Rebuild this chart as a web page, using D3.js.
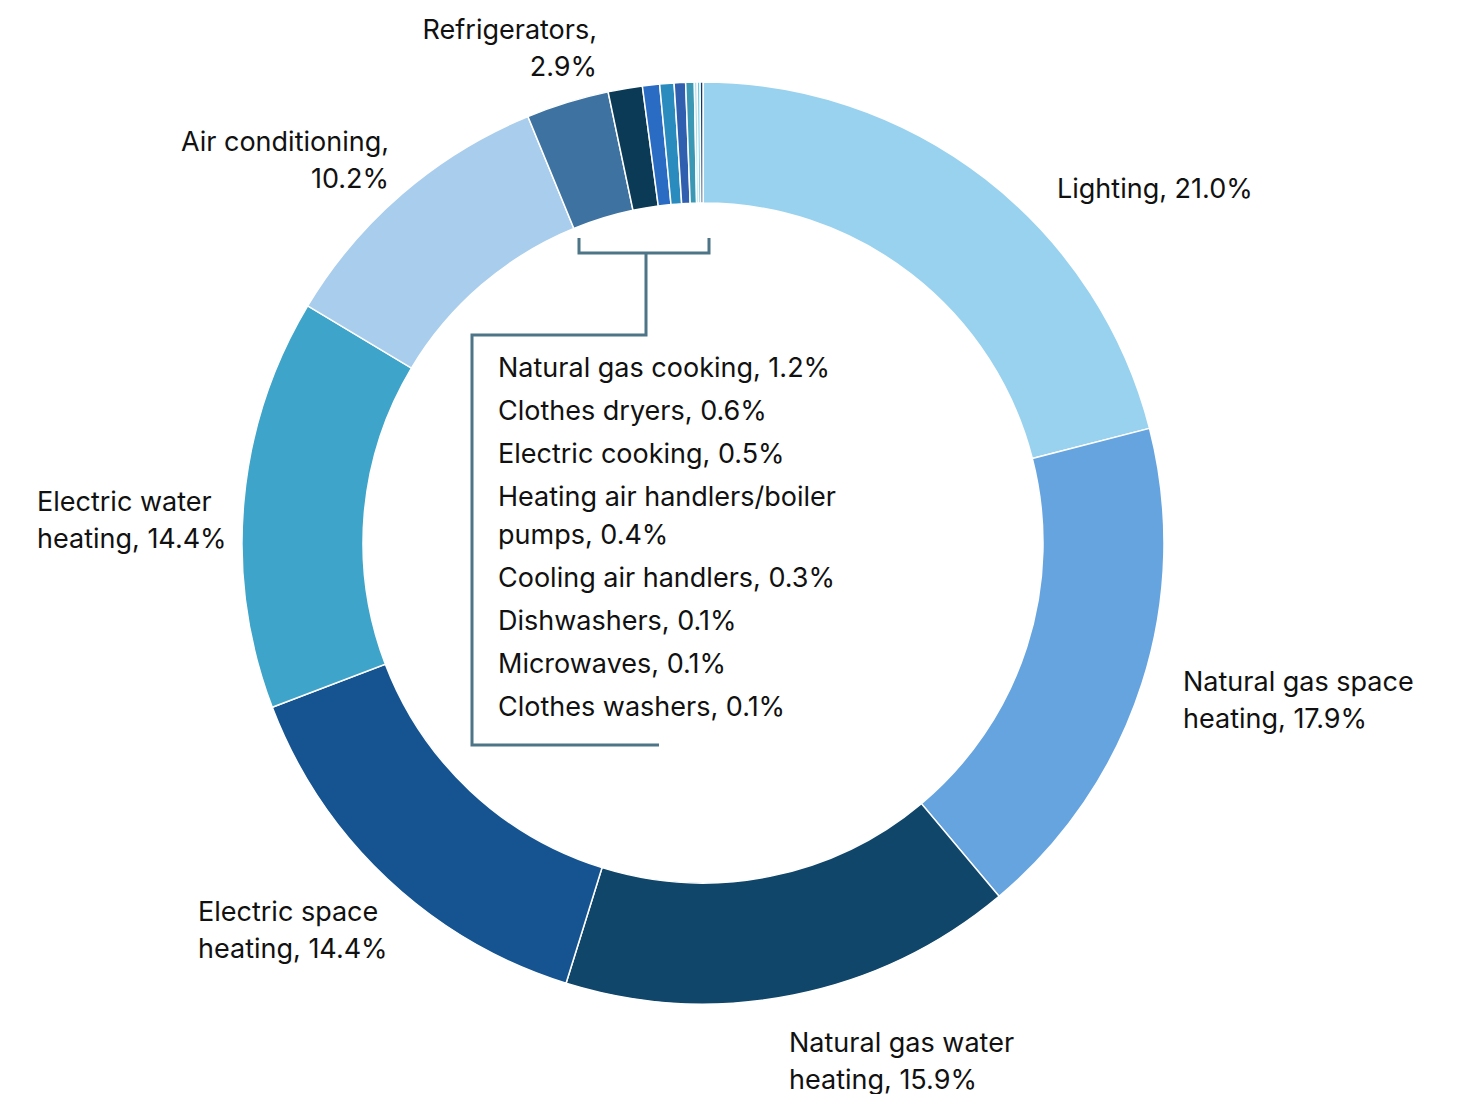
<!DOCTYPE html>
<html>
<head>
<meta charset="utf-8">
<script src="https://cdn.jsdelivr.net/npm/d3@7"></script>
<style>
  body { margin:0; background:#fff; }
  text { font-family: Inter, "Noto Sans", sans-serif; fill:#111; }
</style>
</head>
<body>
<div id="canvas"></div>
<script>
// end uses, share of energy (%)
var categories = ["Lighting","Natural gas space heating","Natural gas water heating","Electric space heating",
    "Electric water heating","Air conditioning","Refrigerators","Natural gas cooking","Clothes dryers",
    "Electric cooking","Heating air handlers/boiler pumps","Cooling air handlers","Dishwashers","Microwaves","Clothes washers"];
var values = [21.0,17.9,15.9,14.4,14.4,10.2,2.9,1.2,0.6,0.5,0.4,0.3,0.1,0.1,0.1];
var colors = ["#99d2ef","#66a4e0","#11466b","#155491","#3ea4c9","#a9cdec","#3e72a0","#0b3a57",
    "#2a6cc4","#2a8bbf","#2f5fae","#3b98b4","#a8e0f0","#6cc4dc","#0d3a6b"];

// outer labels (the bigger slices), split into lines
var bigLabels = [
    {i:0, lines:["Lighting, 21.0%"], x:1057, y:189, anchor:"start"},
    {i:1, lines:["Natural gas space","heating, 17.9%"], x:1183, y:682, anchor:"start"},
    {i:2, lines:["Natural gas water","heating, 15.9%"], x:789, y:1043, anchor:"start"},
    {i:3, lines:["Electric space","heating, 14.4%"], x:198, y:912, anchor:"start"},
    {i:4, lines:["Electric water","heating, 14.4%"], x:37, y:502, anchor:"start"},
    {i:5, lines:["Air conditioning,","10.2%"], x:389, y:142, anchor:"end"},
    {i:6, lines:["Refrigerators,","2.9%"], x:597, y:30, anchor:"end"}
];
// bracket list for the small ones
var smallLines = ["Natural gas cooking, 1.2%","Clothes dryers, 0.6%","Electric cooking, 0.5%",
    "Heating air handlers/boiler","pumps, 0.4%","Cooling air handlers, 0.3%","Dishwashers, 0.1%",
    "Microwaves, 0.1%","Clothes washers, 0.1%"];

var W = 1457, H = 1094,
    cx = 703, cy = 543, rOuter = 461, rInner = 340;

var svg = d3.select('#canvas').append('svg')
    .attr('width', W).attr('height', H);

var data = categories.map(function(c, i){ return {name:c, value:values[i], color:colors[i]}; });

var pie = d3.pie().sort(null).value(function(d){ return d.value; })
    .startAngle(0).endAngle(2*Math.PI);
var arc = d3.arc().innerRadius(rInner).outerRadius(rOuter);

var donut = svg.append('g').attr('transform','translate('+cx+','+cy+')');
donut.selectAll('path')
    .data(pie(data))
    .enter().append('path')
    .attr('d', arc)
    .style('fill', function(d){ return d.data.color; })
    .style('stroke', '#fff')
    .style('stroke-width', 1.5);

// labels
var lh = 37;
bigLabels.forEach(function(l){
    var t = svg.append('text')
        .attr('x', l.x).attr('y', l.y)
        .attr('text-anchor', l.anchor)
        .style('font-size', '27px');
    l.lines.forEach(function(s, k){
        t.append('tspan').attr('x', l.x).attr('y', l.y + k*lh)
            .attr('dy', '0.35em').text(s);
    });
});

// bracket
var br = svg.append('g').style('fill','none').style('stroke','#4d7587').style('stroke-width',3);
br.append('path').attr('d','M579,238 V253 H709 V238');
br.append('path').attr('d','M646,253 V335 H472 V745 H659');

var gaps = [0,43,86,129,167,210,253,296,339];
smallLines.forEach(function(s, k){
    svg.append('text')
        .attr('x', 498).attr('y', 368 + gaps[k])
        .attr('dy','0.35em')
        .style('font-size','27px')
        .text(s);
});
</script>
</body>
</html>
